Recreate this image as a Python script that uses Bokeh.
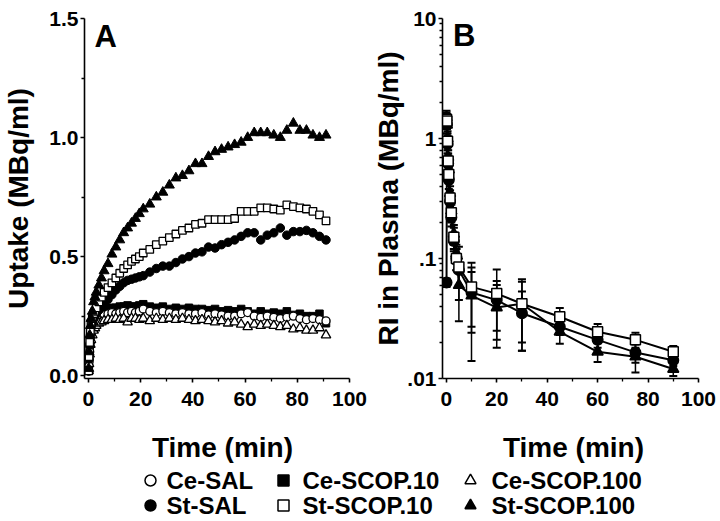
from bokeh.plotting import figure
from bokeh.models import Range1d, FixedTicker, Label, Whisker, TeeHead, ColumnDataSource
from bokeh.layouts import column, row
from bokeh.core.properties import value
from bokeh.embed import file_html
from bokeh.resources import INLINE

FONT = "Liberation Sans"

# ---------------- Panel A data (uptake, MBq/ml) ----------------
time_a = [0.1, 0.25, 0.5, 0.75, 1, 1.5, 2, 2.5, 3, 4, 5, 6,
          7.5, 9, 10.5, 12, 13.5, 15, 16.5, 18, 19.5, 21,
          23.5, 26, 28.5, 31, 33.5, 36, 38.5, 41, 43.5, 46, 48.5, 51, 53.5, 56,
          58.5, 61, 63.5, 66, 68.5, 71, 73.5, 76, 78.5, 81, 83.5, 86, 88.5, 91]

st_scop100 = [0.03, 0.10, 0.17, 0.21, 0.24, 0.27, 0.31, 0.33, 0.35, 0.38, 0.41, 0.44,
              0.47, 0.51, 0.54, 0.57, 0.60, 0.62, 0.64, 0.66, 0.68, 0.70,
              0.72, 0.75, 0.77, 0.80, 0.83, 0.84, 0.86, 0.89, 0.89, 0.92, 0.94, 0.95, 0.96, 0.97,
              0.98, 1.00, 1.02, 1.02, 1.02, 1.01, 1.00, 1.03, 1.06, 1.03, 1.03, 1.01, 1.00, 1.01]
st_scop10 = [0.02, 0.08, 0.14, 0.19, 0.22, 0.24, 0.26, 0.27, 0.285, 0.31, 0.33, 0.35,
             0.37, 0.39, 0.41, 0.43, 0.45, 0.465, 0.48, 0.49, 0.50, 0.515,
             0.53, 0.55, 0.565, 0.58, 0.595, 0.61, 0.62, 0.635, 0.64, 0.655, 0.655, 0.655, 0.655, 0.66,
             0.69, 0.69, 0.69, 0.705, 0.705, 0.70, 0.695, 0.717, 0.71, 0.705, 0.70, 0.69, 0.675, 0.65]
st_sal = [0.02, 0.07, 0.13, 0.17, 0.20, 0.22, 0.24, 0.25, 0.26, 0.275, 0.29, 0.30,
          0.32, 0.34, 0.36, 0.375, 0.39, 0.40, 0.405, 0.41, 0.415, 0.42,
          0.435, 0.45, 0.46, 0.46, 0.475, 0.49, 0.50, 0.515, 0.52, 0.54, 0.536, 0.55, 0.56, 0.57,
          0.585, 0.60, 0.60, 0.57, 0.59, 0.60, 0.62, 0.59, 0.605, 0.605, 0.61, 0.60, 0.585, 0.57]
ce_scop10 = [0.02, 0.06, 0.11, 0.15, 0.18, 0.20, 0.22, 0.23, 0.24, 0.255, 0.265, 0.27,
             0.28, 0.285, 0.285, 0.29, 0.29, 0.295, 0.29, 0.29, 0.295, 0.30,
             0.29, 0.285, 0.29, 0.28, 0.285, 0.28, 0.285, 0.28, 0.28, 0.275, 0.28, 0.27, 0.275, 0.27,
             0.28, 0.27, 0.26, 0.27, 0.26, 0.265, 0.26, 0.27, 0.255, 0.26, 0.25, 0.25, 0.26, 0.22]
ce_sal = [0.02, 0.06, 0.10, 0.14, 0.17, 0.19, 0.21, 0.22, 0.23, 0.24, 0.25, 0.255,
          0.26, 0.265, 0.26, 0.265, 0.27, 0.265, 0.27, 0.265, 0.27, 0.28,
          0.27, 0.265, 0.27, 0.265, 0.26, 0.265, 0.26, 0.26, 0.265, 0.255, 0.26, 0.255, 0.25, 0.25,
          0.26, 0.265, 0.25, 0.245, 0.25, 0.245, 0.24, 0.245, 0.25, 0.24, 0.235, 0.24, 0.235, 0.23]
ce_scop100 = [0.02, 0.05, 0.09, 0.13, 0.15, 0.17, 0.19, 0.20, 0.21, 0.22, 0.225, 0.23,
              0.235, 0.235, 0.24, 0.235, 0.24, 0.225, 0.24, 0.24, 0.235, 0.24,
              0.23, 0.24, 0.235, 0.24, 0.235, 0.24, 0.235, 0.23, 0.235, 0.23, 0.225, 0.23, 0.22, 0.225,
              0.215, 0.205, 0.215, 0.21, 0.215, 0.21, 0.205, 0.21, 0.195, 0.20, 0.19, 0.19, 0.20, 0.17]

# ---------------- Panel B data (RI in plasma, MBq/ml) ----------------
time_b = [0.1, 0.25, 0.5, 0.75, 1, 1.5, 2, 3, 4, 5, 10, 20, 30, 45, 60, 75, 90]
plasma_sal = [0.063, 1.3, 0.9, 0.62, 0.45, 0.3, 0.22, 0.14, 0.1, 0.08, 0.052, 0.045, 0.035, 0.027, 0.021, 0.0165, 0.0142]
plasma_sal_sd = [0.005, 0.2, 0.15, 0.1, 0.07, 0.05, 0.035, 0.025, 0.02, 0.02, 0.025, 0.02, 0.018, 0.004, 0.003, 0.003, 0.0015]
plasma_scop10 = [1.45, 1.4, 0.95, 0.65, 0.5, 0.32, 0.24, 0.15, 0.1, 0.085, 0.058, 0.051, 0.042, 0.0327, 0.0245, 0.021, 0.0167]
plasma_scop10_sd = [0.2, 0.2, 0.15, 0.1, 0.07, 0.05, 0.04, 0.03, 0.02, 0.04, 0.034, 0.03, 0.022, 0.006, 0.004, 0.003, 0.002]
plasma_scop100 = [1.5, 1.3, 1.0, 0.7, 0.55, 0.35, 0.25, 0.16, 0.11, 0.06, 0.049, 0.039, 0.042, 0.0245, 0.0167, 0.0152, 0.012]
plasma_scop100_sd = [0.2, 0.2, 0.15, 0.1, 0.08, 0.05, 0.04, 0.03, 0.02, 0.03, 0.035, 0.021, 0.025, 0.005, 0.003, 0.004, 0.0015]

# ---------------- ticks / labels ----------------
x_ticks = [0, 20, 40, 60, 80, 100]
x_minor = [10, 30, 50, 70, 90]
ya_ticks = [0.0, 0.5, 1.0, 1.5]
ya_labels = ["0.0", "0.5", "1.0", "1.5"]
ya_minor = [0.25, 0.75, 1.25]
yb_ticks = [0.01, 0.1, 1, 10]
yb_labels = [".01", ".1", "1", "10"]
yb_minor = [m * d for d in [0.01, 0.1, 1] for m in range(2, 10)]

x_title = "Time (min)"
legend_labels = [["Ce-SAL", "Ce-SCOP.10", "Ce-SCOP.100"],
                 ["St-SAL", "St-SCOP.10", "St-SCOP.100"]]

# ---------------- geometry (pixels) ----------------
PH = 415                        # panel height
A_L, A_F, A_R = 83, 266, 21     # panel A: left border, frame width, right border
B_L, B_F, B_R = 66, 262, 22     # panel B
WA = A_L + A_F + A_R
WB = B_L + B_F + B_R
A_TOP, A_FH = 16, 363
B_TOP, B_FH = 18, 360


def style(p, ylabel, ystandoff):
    p.xgrid.visible = False
    p.ygrid.visible = False
    p.outline_line_color = None
    p.background_fill_color = "white"
    p.border_fill_color = "white"
    for ax in (p.xaxis[0], p.yaxis[0]):
        ax.axis_line_width = 1.6
        ax.axis_line_color = "black"
        ax.major_tick_line_width = 1.6
        ax.minor_tick_line_width = 1.3
        ax.major_tick_line_color = "black"
        ax.minor_tick_line_color = "black"
        ax.major_tick_in = 0
        ax.major_tick_out = 4
        ax.minor_tick_in = 0
        ax.minor_tick_out = 3
        ax.major_label_text_font = FONT
        ax.major_label_text_font_style = "bold"
        ax.major_label_text_font_size = "21px"
        ax.major_label_text_color = "black"
        ax.axis_label_text_font = FONT
        ax.axis_label_text_font_style = "bold"
        ax.axis_label_text_font_size = "28px"
        ax.axis_label_text_color = "black"
    p.yaxis[0].axis_label = ylabel
    p.xaxis[0].ticker = FixedTicker(ticks=x_ticks, minor_ticks=x_minor)
    p.xaxis[0].major_label_standoff = 9
    p.yaxis[0].major_label_standoff = 2
    p.yaxis[0].axis_label_standoff = ystandoff


# ---------------- Panel A ----------------
pA = figure(width=WA, height=PH, output_backend="svg", toolbar_location=None,
            x_range=Range1d(-1.5, 100), y_range=Range1d(-0.012, 1.5),
            min_border_left=A_L, min_border_right=A_R, min_border_top=A_TOP,
            min_border_bottom=PH - A_TOP - A_FH)
style(pA, "Uptake (MBq/ml)", 12)
pA.yaxis[0].ticker = FixedTicker(ticks=ya_ticks, minor_ticks=ya_minor)
pA.yaxis[0].major_label_overrides = dict(zip(ya_ticks, ya_labels))

pA.scatter(time_a, ce_scop10, marker="square", size=7.5, fill_color="black", line_color="black")
pA.scatter(time_a, ce_sal, marker="circle", size=8, fill_color="white", line_color="black", line_width=1.3)
pA.scatter(time_a, ce_scop100, marker="triangle", size=9.5, fill_color="white", line_color="black", line_width=1.3)
pA.scatter(time_a, st_sal, marker="circle", size=8.5, fill_color="black", line_color="black")
pA.scatter(time_a, st_scop10, marker="square", size=7.5, fill_color="white", line_color="black", line_width=1.3)
pA.scatter(time_a, st_scop100, marker="triangle", size=10, fill_color="black", line_color="black")

pA.add_layout(Label(x=2.3, y=1.425, text="A", text_font=FONT, text_font_style="bold",
                    text_font_size="31px", text_color="black", text_baseline="alphabetic"))

# ---------------- Panel B ----------------
pB = figure(width=WB, height=PH, output_backend="svg", toolbar_location=None,
            y_axis_type="log",
            x_range=Range1d(-1.5, 100), y_range=Range1d(0.01, 10),
            min_border_left=B_L, min_border_right=B_R, min_border_top=B_TOP,
            min_border_bottom=PH - B_TOP - B_FH)
style(pB, "RI in Plasma (MBq/ml)", 0)
pB.yaxis[0].ticker = FixedTicker(ticks=yb_ticks, minor_ticks=yb_minor)
pB.yaxis[0].major_label_overrides = dict(zip(yb_ticks, yb_labels))

series_b = [
    (plasma_scop100, plasma_scop100_sd, "triangle", "black", 11),
    (plasma_sal, plasma_sal_sd, "circle", "black", 10.5),
    (plasma_scop10, plasma_scop10_sd, "square", "white", 10),
]
for vals, sd, mk, fill, sz in series_b:
    src = ColumnDataSource(dict(t=time_b, v=vals,
                                hi=[v + s for v, s in zip(vals, sd)],
                                lo=[v - s for v, s in zip(vals, sd)]))
    pB.line("t", "v", source=src, line_color="black", line_width=2)
    pB.add_layout(Whisker(base="t", upper="hi", lower="lo", source=src,
                          line_color="black", line_width=1.5,
                          upper_head=TeeHead(size=8, line_width=2, line_color="black"),
                          lower_head=TeeHead(size=8, line_width=2, line_color="black")))
for vals, sd, mk, fill, sz in series_b:
    pB.scatter(time_b, vals, marker=mk, size=sz, fill_color=fill, line_color="black", line_width=1.5)

pB.add_layout(Label(x=2.7, y=7.2, text="B", text_font=FONT, text_font_style="bold",
                    text_font_size="31px", text_color="black", text_baseline="alphabetic"))

# ---------------- Bottom strip: x titles + legend ----------------
LH = 521 - PH
pL = figure(width=WA + WB, height=LH, output_backend="svg", toolbar_location=None,
            x_range=Range1d(0, WA + WB), y_range=Range1d(0, LH), min_border=0)
pL.axis.visible = False
pL.xgrid.visible = False
pL.ygrid.visible = False
pL.outline_line_color = None

title_x = [222, 573]
pL.text(title_x, [LH - 32, LH - 32], text=[x_title, x_title],
        text_font=value(FONT), text_font_style="bold", text_font_size=value("28px"),
        text_color="black", text_baseline="middle", text_align="center")

col_marker_x = [150, 283, 470]
col_text_x = [166, 302, 491]
row_y = [LH - 65, LH - 90]
markers = [[("circle", "white"), ("square", "black"), ("triangle", "white")],
           [("circle", "black"), ("square", "white"), ("triangle", "black")]]
for r in range(2):
    for c in range(3):
        mk, fill = markers[r][c]
        pL.scatter([col_marker_x[c]], [row_y[r]], marker=mk, size=11, fill_color=fill,
                   line_color="black", line_width=1.5)
        pL.text([col_text_x[c]], [row_y[r]], text=[legend_labels[r][c]],
                text_font=value(FONT), text_font_style="bold", text_font_size=value("24px"),
                text_color="black", text_baseline="middle", text_align="left")

layout = column(row(pA, pB), pL)
open("out.html", "w").write(file_html(layout, INLINE))
